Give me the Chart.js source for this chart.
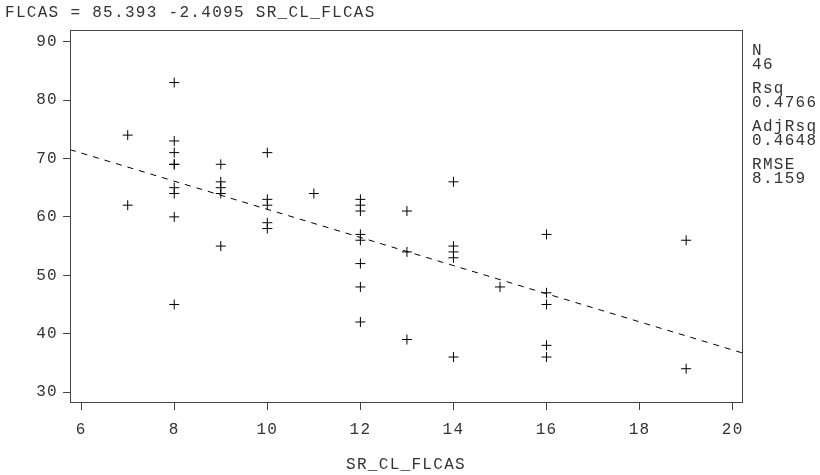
<!DOCTYPE html>
<html>
<head>
<meta charset="utf-8">
<script src="https://cdn.jsdelivr.net/npm/chart.js@4"></script>
<style>
  html, body { margin: 0; padding: 0; background: #fff; }
  canvas { display: block; }
</style>
</head>
<body>
<canvas id="chart" width="820" height="475"></canvas>
<script>
// observed points: SR_CL_FLCAS (x) vs FLCAS (y)
const srValues = [
  7, 7,
  8, 8, 8, 8, 8, 8, 8, 8, 8,
  9, 9, 9, 9, 9,
  10, 10, 10, 10, 10,
  11,
  12, 12, 12, 12, 12, 12, 12, 12,
  13, 13, 13,
  14, 14, 14, 14, 14,
  15,
  16, 16, 16, 16, 16,
  19, 19
];
const flcasValues = [
  74, 62,
  83, 73, 71, 69, 69, 65, 64, 60, 45,
  69, 66, 65, 64, 55,
  71, 63, 62, 59, 58,
  64,
  63, 62, 61, 57, 56, 52, 48, 42,
  61, 54, 39,
  66, 55, 54, 53, 36,
  48,
  57, 47, 45, 38, 36,
  56, 34
];

// fitted line from the header
const intercept = 85.393;
const slope = -2.4095;

const xTicks = [6, 8, 10, 12, 14, 16, 18, 20];
const yTicks = [30, 40, 50, 60, 70, 80, 90];
const xRange = [5.76, 20.2];
const yRange = [28.3, 92];

const titleText = "FLCAS = 85.393 -2.4095 SR_CL_FLCAS";
const statLabels = ["N", "Rsq", "AdjRsq", "RMSE"];
const statValues = ["46", "0.4766", "0.4648", "8.159"];

const FONT = "'Liberation Mono', 'DejaVu Sans Mono', monospace";
const INK = "#333";

function points() {
  return srValues.map((x, i) => ({ x: x, y: flcasValues[i] }));
}

function fitLine() {
  return xRange.map((x) => ({ x: x, y: intercept + slope * x }));
}

// wider monospace look, like the SAS output
const spacing = {
  id: "spacing",
  beforeDraw(chart) {
    chart.ctx.letterSpacing = "1.3px";
  },
};

const frameAndText = {
  id: "frameAndText",
  afterDraw(chart) {
    const ctx = chart.ctx;
    const a = chart.chartArea;
    ctx.save();
    ctx.strokeStyle = "#444";
    ctx.lineWidth = 1;
    ctx.strokeRect(a.left + 0.5, a.top + 0.5, a.right - a.left, a.bottom - a.top);

    ctx.fillStyle = INK;
    ctx.font = "16px " + FONT;
    ctx.textBaseline = "middle";
    ctx.textAlign = "left";
    ctx.fillText(titleText, 5, 13);

    let y = 51;
    statLabels.forEach((lab, i) => {
      ctx.fillText(lab, 752, y);
      ctx.fillText(statValues[i], 752, y + 14);
      y += 38;
    });
    ctx.restore();
  },
};

new Chart(document.getElementById("chart").getContext("2d"), {
  data: {
    datasets: [
      {
        type: "scatter",
        data: points(),
        pointStyle: "cross",
        pointRadius: 5,
        pointBorderWidth: 1,
        borderColor: "#000",
        backgroundColor: "#000",
      },
      {
        type: "line",
        data: fitLine(),
        borderColor: "#000",
        borderWidth: 1,
        borderDash: [6, 6],
        pointRadius: 0,
        fill: false,
      },
    ],
  },
  options: {
    responsive: false,
    animation: false,
    layout: { padding: { left: 0, top: 30, right: 78, bottom: 0 } },
    plugins: {
      legend: { display: false },
      tooltip: { enabled: false },
    },
    scales: {
      x: {
        type: "linear",
        min: xRange[0],
        max: xRange[1],
        afterBuildTicks: (s) => { s.ticks = xTicks.map((v) => ({ value: v })); },
        afterFit: (s) => { s.height = 73; },
        grid: { drawOnChartArea: false, drawTicks: true, tickLength: 8, color: "#444" },
        border: { display: true, color: "#444" },
        ticks: { color: INK, font: { family: FONT, size: 16 }, padding: 10, maxRotation: 0 },
        title: {
          display: true,
          text: "SR_CL_FLCAS",
          color: INK,
          font: { family: FONT, size: 16 },
          padding: { top: 0, bottom: 1 },
        },
      },
      y: {
        type: "linear",
        min: yRange[0],
        max: yRange[1],
        afterBuildTicks: (s) => { s.ticks = yTicks.map((v) => ({ value: v })); },
        afterFit: (s) => { s.width = 70; },
        grid: { drawOnChartArea: false, drawTicks: true, tickLength: 7, color: "#444" },
        border: { display: true, color: "#444" },
        ticks: { color: INK, font: { family: FONT, size: 16 }, padding: 5 },
      },
    },
  },
  plugins: [spacing, frameAndText],
});
</script>
</body>
</html>
